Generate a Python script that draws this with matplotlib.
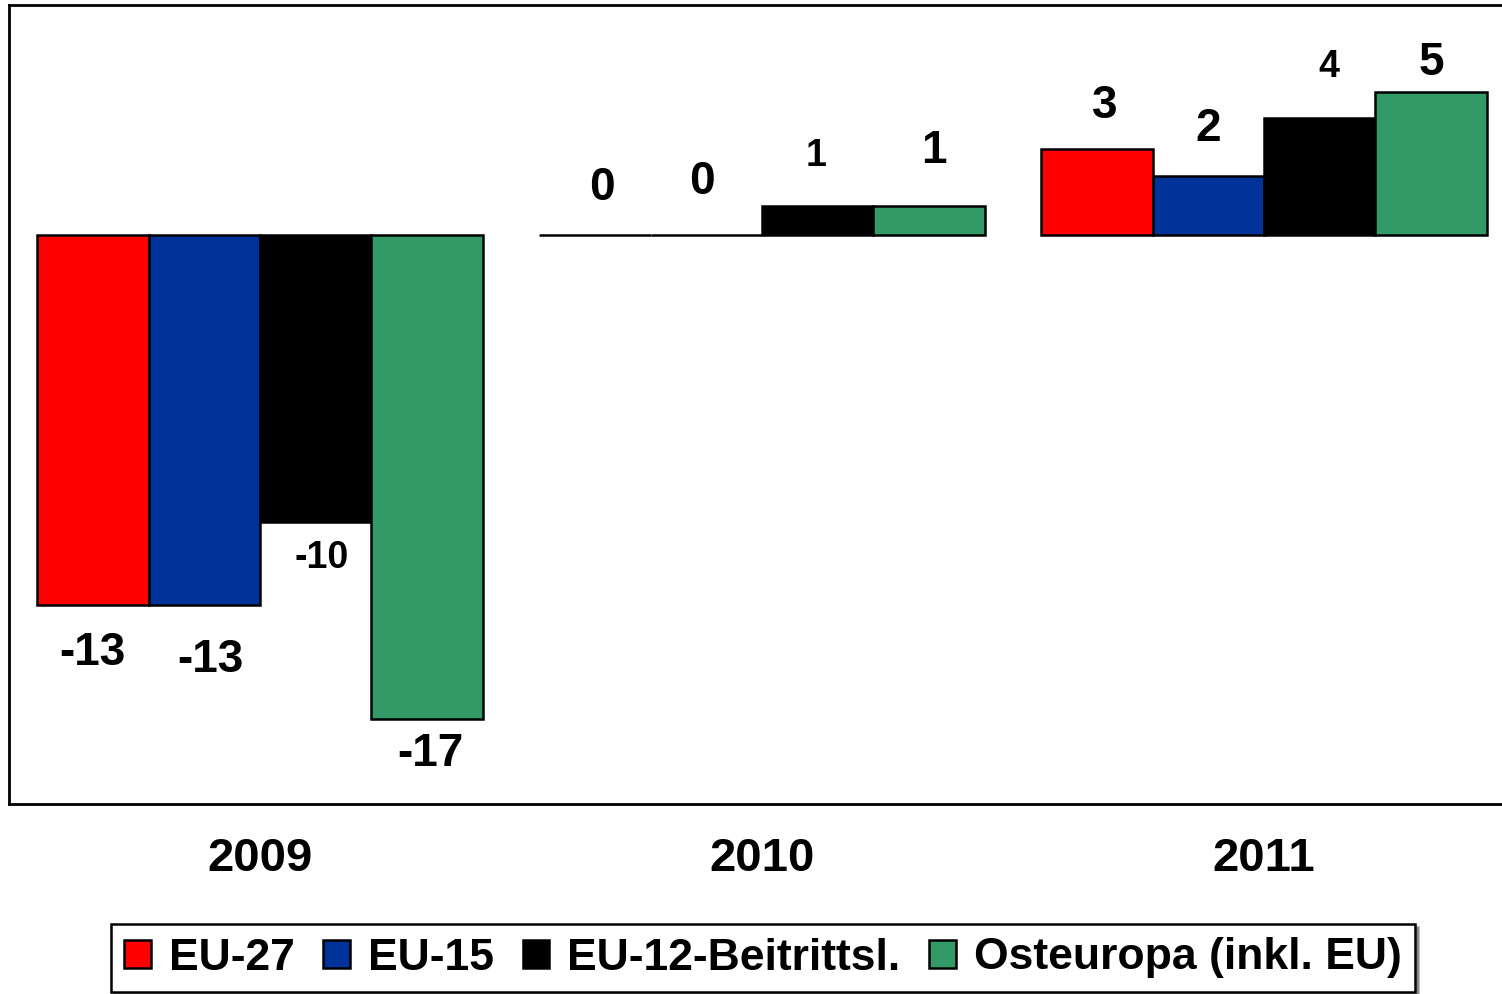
import matplotlib
matplotlib.use("Agg")
import matplotlib.pyplot as plt
import numpy as np

plt.rcParams['font.family'] = ['Liberation Sans', 'DejaVu Sans']
plt.rcParams['font.weight'] = 'bold'

years = ["2009", "2010", "2011"]
series = ["EU-27", "EU-15", "EU-12-Beitrittsl.", "Osteuropa (inkl. EU)"]
eu27 = [-13.0, 0.0, 3.0]
eu15 = [-13.0, 0.0, 2.05]
eu12 = [-10.1, 1.0, 4.1]
ost = [-17.0, 1.0, 5.0]
values = [eu27, eu15, eu12, ost]
colors = ["#FF0000", "#003399", "#000000", "#339966"]

# label offsets in pixels (dx, dy) per series per year (style only)
label_dx = [[0, 7, 8], [6, -4, 0], [6, -2, 9], [3, 5, 0]]
label_dy = [[-48, 47, 43], [-55, 53, 47], [-36, 50, 51], [-35, 55, 29]]
label_size = [33, 33, 27, 33]

W, H = 1502, 994
fig = plt.figure(figsize=(W / 100, H / 100), dpi=100)
ax = fig.add_axes([9 / W, 1 - 804 / H, 1506 / W, (804 - 5) / H])

x = np.arange(len(years))
bw = 0.222
for i, (vals, c) in enumerate(zip(values, colors)):
    pos = x + (i - 1.5) * bw
    ax.bar(pos, vals, width=bw, color=c, edgecolor="black", linewidth=1.8,
           label=series[i], zorder=3)
    for j, (p, v) in enumerate(zip(pos, vals)):
        ax.annotate(f"{v:.0f}", (p, v), xytext=(label_dx[i][j], label_dy[i][j]),
                    textcoords="offset pixels", ha="center", va="center",
                    fontsize=label_size[i], fontweight="bold")

ax.set_xlim(-0.5, 2.5)
ax.set_ylim(-20, 8.06)
ax.set_yticks([])
ax.set_xticks(x)
ax.set_xticklabels(years, fontsize=34, fontweight="bold")
ax.tick_params(axis="x", length=0, pad=24)
for s in ax.spines.values():
    s.set_linewidth(2)
    s.set_color("black")

leg = fig.legend(loc="center", bbox_to_anchor=(763 / W, 1 - 958 / H), ncol=4,
                 fontsize=32, frameon=True, fancybox=False, shadow=True,
                 handlelength=0.6, handleheight=0.6, handletextpad=0.4,
                 columnspacing=0.65, borderpad=0.3, borderaxespad=0)
leg.get_frame().set_edgecolor("black")
leg.get_frame().set_linewidth(1.8)
for t in leg.get_texts():
    t.set_fontweight("bold")

fig.savefig("out.png", dpi=100)
